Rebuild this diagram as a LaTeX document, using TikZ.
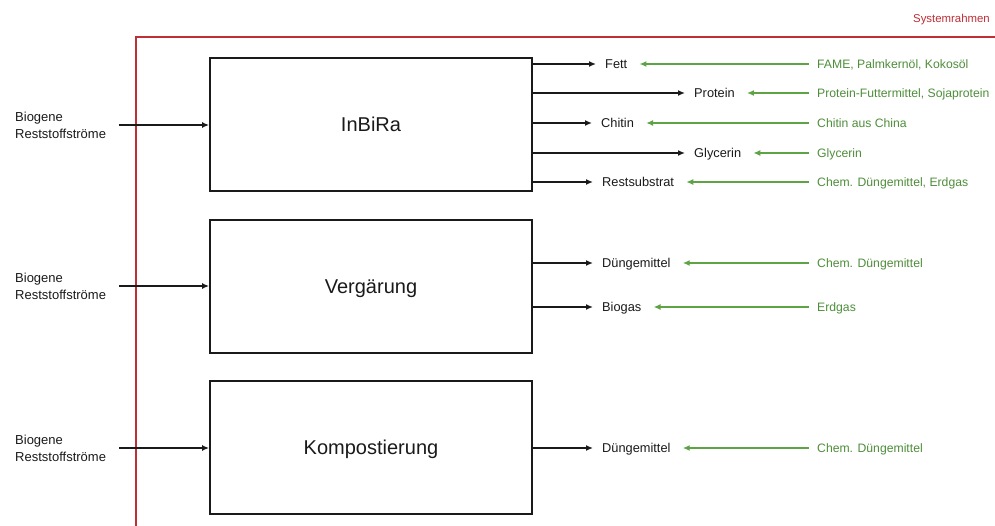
\documentclass[tikz,border=0pt]{standalone}
\usepackage{fontspec}
\setmainfont{Liberation Sans}
\usetikzlibrary{arrows.meta}
\definecolor{framered}{HTML}{BE2F36}
\definecolor{grnline}{HTML}{5EA444}
\definecolor{grntxt}{HTML}{4E8E3A}
\definecolor{ink}{HTML}{1A1A1A}
\begin{document}
\begin{tikzpicture}[x=1pt,y=-1pt,
  proc/.style={draw=ink, line width=1.8pt, minimum width=322pt, minimum height=133pt, inner sep=0pt, text height=14.4pt, text depth=0pt, font=\fontsize{20}{24}\selectfont, text=ink},
  outlbl/.style={anchor=west, inner xsep=9pt, inner ysep=0pt, text height=9.2pt, text depth=0pt, font=\fontsize{12.8}{15}\selectfont, text=ink},
  srclbl/.style={anchor=west, inner xsep=0pt, inner ysep=0pt, text height=8.8pt, text depth=0pt, font=\fontsize{12.2}{15}\selectfont, text=grntxt},
  inlbl/.style={anchor=west, align=left, inner sep=0pt, font=\fontsize{13}{17}\selectfont, text=ink},
  arr/.style={draw=ink, line width=1.5pt, -{Latex[length=7pt,width=6pt]}},
  garr/.style={draw=grnline, line width=1.5pt, -{Latex[length=7pt,width=6pt]}, shorten >=3pt}
]
\useasboundingbox (0,0) rectangle (995,526);
\fill[white] (0,0) rectangle (995,526);
% system frame
\draw[framered, line width=1.4pt] (136,526) -- (136,37) -- (995,37);
\node[anchor=east, inner sep=0pt, text=framered, font=\fontsize{11.4}{13}\selectfont] (sysr) at (990,20) {Systemrahmen};

% process boxes
\node[proc] (inbira) at (371,124.5) {InBiRa};
\node[proc] (verg) at (371,286.5) {Vergärung};
\node[proc] (komp) at (371,447.5) {Kompostierung};

% inputs
\foreach \n/\y in {inbira/125, verg/286, komp/448}{
  \node[inlbl] (in\n) at (15,\y) {Biogene\\Reststoffströme};
  \coordinate (s\n) at (119,\y);
  \draw[arr] (s\n) -- (s\n -| \n.west);
}

% InBiRa outputs
\node[outlbl] (fett) at (596,64) {Fett};
\node[outlbl] (prot) at (685,93) {Protein};
\node[outlbl] (chit) at (592,123) {Chitin};
\node[outlbl] (glyc) at (685,153) {Glycerin};
\node[outlbl] (rest) at (593,182) {Restsubstrat};
\foreach \o in {fett,prot,chit,glyc,rest}{
  \draw[arr] (\o.west -| inbira.east) -- (\o.west);
}
% Vergärung outputs
\node[outlbl] (dung1) at (593,263) {Düngemittel};
\node[outlbl] (biog) at (593,307) {Biogas};
\draw[arr] (dung1.west -| verg.east) -- (dung1.west);
\draw[arr] (biog.west -| verg.east) -- (biog.west);
% Kompostierung output
\node[outlbl] (dung2) at (593,448) {Düngemittel};
\draw[arr] (dung2.west -| komp.east) -- (dung2.west);

% substitutes
\node[srclbl] (sfett) at (817,64) {FAME, Palmkernöl, Kokosöl};
\node[srclbl] (sprot) at (817,93) {Protein-Futtermittel, Sojaprotein};
\node[srclbl] (schit) at (817,123) {Chitin aus China};
\node[srclbl] (sglyc) at (817,153) {Glycerin};
\node[srclbl] (srest) at (817,182) {Chem. Düngemittel, Erdgas};
\node[srclbl] (sdung1) at (817,263) {Chem. Düngemittel};
\node[srclbl] (sbiog) at (817,307) {Erdgas};
\node[srclbl] (sdung2) at (817,448) {Chem. Düngemittel};
\foreach \s/\o in {sfett/fett, sprot/prot, schit/chit, sglyc/glyc, srest/rest, sdung1/dung1, sbiog/biog, sdung2/dung2}{
  \draw[garr] ([xshift=-8pt]\s.west) -- (\o.east);
}
\end{tikzpicture}
\end{document}
